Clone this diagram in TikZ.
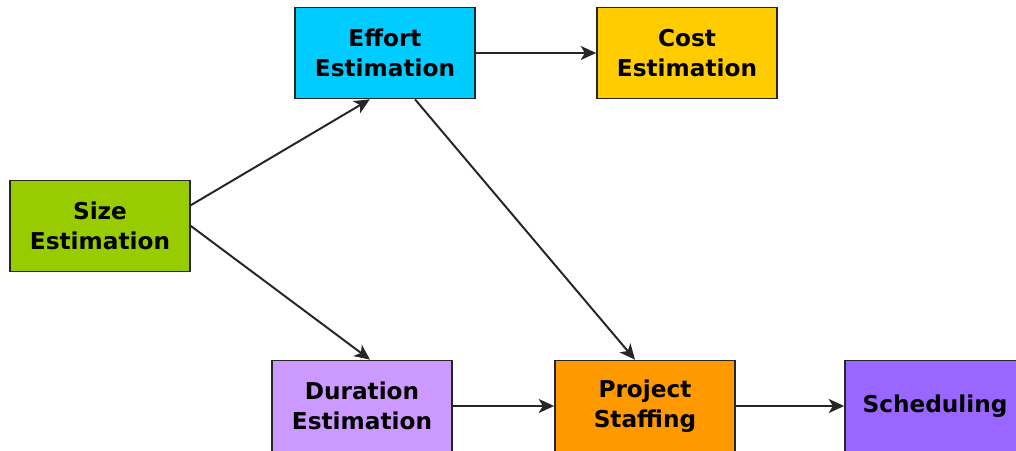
\documentclass[tikz,border=0pt]{standalone}
\usepackage{fontspec}
\setmainfont{DejaVu Sans}
\usetikzlibrary{arrows.meta}
\definecolor{sizegreen}{RGB}{153,204,0}
\definecolor{effortblue}{RGB}{0,204,255}
\definecolor{costyellow}{RGB}{255,204,0}
\definecolor{durationlilac}{RGB}{204,153,255}
\definecolor{staffingorange}{RGB}{255,153,0}
\definecolor{schedpurple}{RGB}{153,102,255}

\begin{document}
\begin{tikzpicture}[x=0.025cm,y=-0.025cm,
  every node/.style={font=\bfseries\fontsize{16.5}{21}\selectfont},
  estbox/.style={draw=black!85,line width=1.2pt,minimum width=4.5cm,
    minimum height=2.275cm,align=center,inner sep=0pt},
  flow/.style={draw=black!85,line width=1.4pt,-{Stealth[length=11pt,width=10pt,inset=3pt]}}]
  \clip (0,0) rectangle (1016,451);
  % estimation boxes
  \node[estbox,fill=sizegreen] (size) at (100,226) {Size\\Estimation};
  \node[estbox,fill=effortblue] (effort) at (385,53) {Effort\\Estimation};
  \node[estbox,fill=costyellow] (cost) at (687,53) {Cost\\Estimation};
  \node[estbox,fill=durationlilac] (duration) at (362,406) {Duration\\Estimation};
  \node[estbox,fill=staffingorange] (staffing) at (645,406) {Project\\Staffing};
  \node[estbox,fill=schedpurple] (sched) at (935,406) {Scheduling};
  % flows
  \draw[flow] ([yshift=0.52cm]size.east) -- ([xshift=-0.38cm]effort.south);
  \draw[flow] (size.east) -- ([xshift=0.2cm]duration.north);
  \draw[flow] ([xshift=0.75cm]effort.south) -- ([xshift=-0.25cm]staffing.north);
  \draw[flow] (effort) -- (cost);
  \draw[flow] (duration) -- (staffing);
  \draw[flow] (staffing) -- (sched);
\end{tikzpicture}
\end{document}
